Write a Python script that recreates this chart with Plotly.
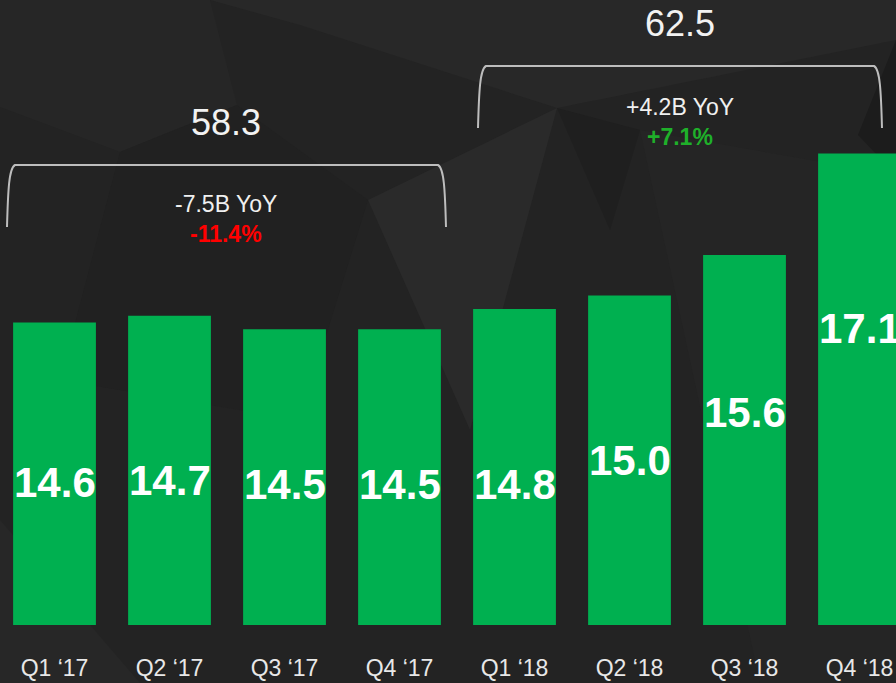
import plotly.graph_objects as go

# ---------------- data ----------------
quarters = ["Q1 \u201817", "Q2 \u201817", "Q3 \u201817", "Q4 \u201817",
            "Q1 \u201818", "Q2 \u201818", "Q3 \u201818", "Q4 \u201818"]
revenue = [14.6, 14.7, 14.5, 14.5, 14.8, 15.0, 15.6, 17.1]
group_totals = ["58.3", "62.5"]
group_yoy = ["-7.5B YoY", "+4.2B YoY"]
group_pct = ["-11.4%", "+7.1%"]

# ---------------- layout helpers (pixel geometry) ----------------
W, H = 896, 683
MB = 58
PLOT_H = H - MB
X0, X_UNIT = -0.474, 115.0
Y0, Y_UNIT = 10.13, 67.66
x_range = [X0, X0 + W / X_UNIT]
y_range = [Y0, Y0 + PLOT_H / Y_UNIT]


def px2x(px):
    return X0 + px / X_UNIT


def px2y(py):
    return Y0 + (PLOT_H - py) / Y_UNIT


FONT = "Liberation Sans, Arial, sans-serif"
BG = "#232323"
GREEN = "#00b050"

fig = go.Figure()
fig.add_trace(go.Bar(
    x=list(range(len(quarters))), y=revenue, width=0.72,
    marker=dict(color=GREEN, line=dict(width=0)),
    hoverinfo="skip", showlegend=False,
))

shapes = []
# background facets (decorative), in pixel coords -> paper
facets = [
    ([(0, 0), (210, 0), (237, 105), (120, 152), (0, 107)], "#262626"),
    ([(210, 0), (896, 0), (896, 40), (557, 108), (300, 25)], "#282828"),
    ([(368, 200), (557, 108), (470, 430)], "#2a2a2a"),
    ([(557, 108), (640, 130), (610, 230)], "#1f1f1f"),
    ([(896, 40), (896, 175), (858, 135), (880, 80)], "#1c1c1c"),
    ([(0, 520), (140, 683), (0, 683)], "#272727"),
    ([(120, 152), (237, 105), (368, 200), (300, 420), (60, 380)], "#212121"),
    ([(640, 130), (896, 175), (896, 683), (760, 683)], "#252525"),
]
for pts, col in facets:
    path = "M " + " L ".join(f"{px / W:.4f},{1 - py / PLOT_H:.4f}" for px, py in pts) + " Z"
    shapes.append(dict(type="path", xref="paper", yref="paper", path=path,
                       fillcolor=col, line=dict(width=0), layer="below"))


def bracket(xl, xr, yt, yb):
    pts = [
        ("M", [(xl, yb)]),
        ("C", [(xl + 1, yt + 25), (xl + 2, yt + 3), (xl + 8, yt)]),
        ("L", [(xr - 6, yt)]),
        ("C", [(xr, yt + 3), (xr + 1, yt + 25), (xr + 2, yb)]),
    ]
    s = ""
    for cmd, ps in pts:
        s += cmd + " " + " ".join(f"{px2x(a):.4f},{px2y(b):.4f}" for a, b in ps) + " "
    return dict(type="path", xref="x", yref="y", path=s.strip(),
                line=dict(color="#bdbdbd", width=2), layer="above")


shapes.append(bracket(7, 444, 165, 227))
shapes.append(bracket(478, 880, 66, 128))

annotations = []
# bar value labels (vertical placement as in the reference)
label_px = [482, 480, 484, 484, 484, 460, 412, 328]
for i, v in enumerate(revenue):
    annotations.append(dict(x=i, y=px2y(label_px[i]), xref="x", yref="y",
                            text=f"<b>{v:.1f}</b>", showarrow=False,
                            font=dict(family=FONT, size=42, color="white"),
                            xanchor="center", yanchor="middle"))

group_cx = [226, 680]
total_py = [122, 23]
yoy_py = [204, 107]
pct_py = [234, 137]
pct_col = ["#ff0000", "#1fb02a"]
for g in range(2):
    annotations.append(dict(x=px2x(group_cx[g]), y=px2y(total_py[g]), xref="x", yref="y",
                            text=group_totals[g], showarrow=False,
                            font=dict(family=FONT, size=36, color="#f2f2f2")))
    annotations.append(dict(x=px2x(group_cx[g]), y=px2y(yoy_py[g]), xref="x", yref="y",
                            text=group_yoy[g], showarrow=False,
                            font=dict(family=FONT, size=23, color="#f0f0f0")))
    annotations.append(dict(x=px2x(group_cx[g]), y=px2y(pct_py[g]), xref="x", yref="y",
                            text=f"<b>{group_pct[g]}</b>", showarrow=False,
                            font=dict(family=FONT, size=23, color=pct_col[g])))

fig.update_layout(
    width=W, height=H,
    margin=dict(l=0, r=0, t=0, b=MB, pad=0),
    paper_bgcolor=BG, plot_bgcolor="rgba(0,0,0,0)",
    shapes=shapes, annotations=annotations,
    showlegend=False,
    xaxis=dict(range=x_range, tickmode="array", tickvals=list(range(len(quarters))),
               ticktext=quarters, showgrid=False, zeroline=False, showline=False,
               ticks="", tickfont=dict(family=FONT, size=23, color="#e8e8e8"),
               ticklabelstandoff=27, fixedrange=True),
    yaxis=dict(range=y_range, visible=False, showgrid=False, zeroline=False,
               fixedrange=True),
    bargap=0.28,
)

fig.write_html(
    "out.html",
    config={"displayModeBar": False},
    post_script="document.body.style.margin='0';document.body.style.padding='0';"
                "document.body.style.background='" + BG + "';",
)
